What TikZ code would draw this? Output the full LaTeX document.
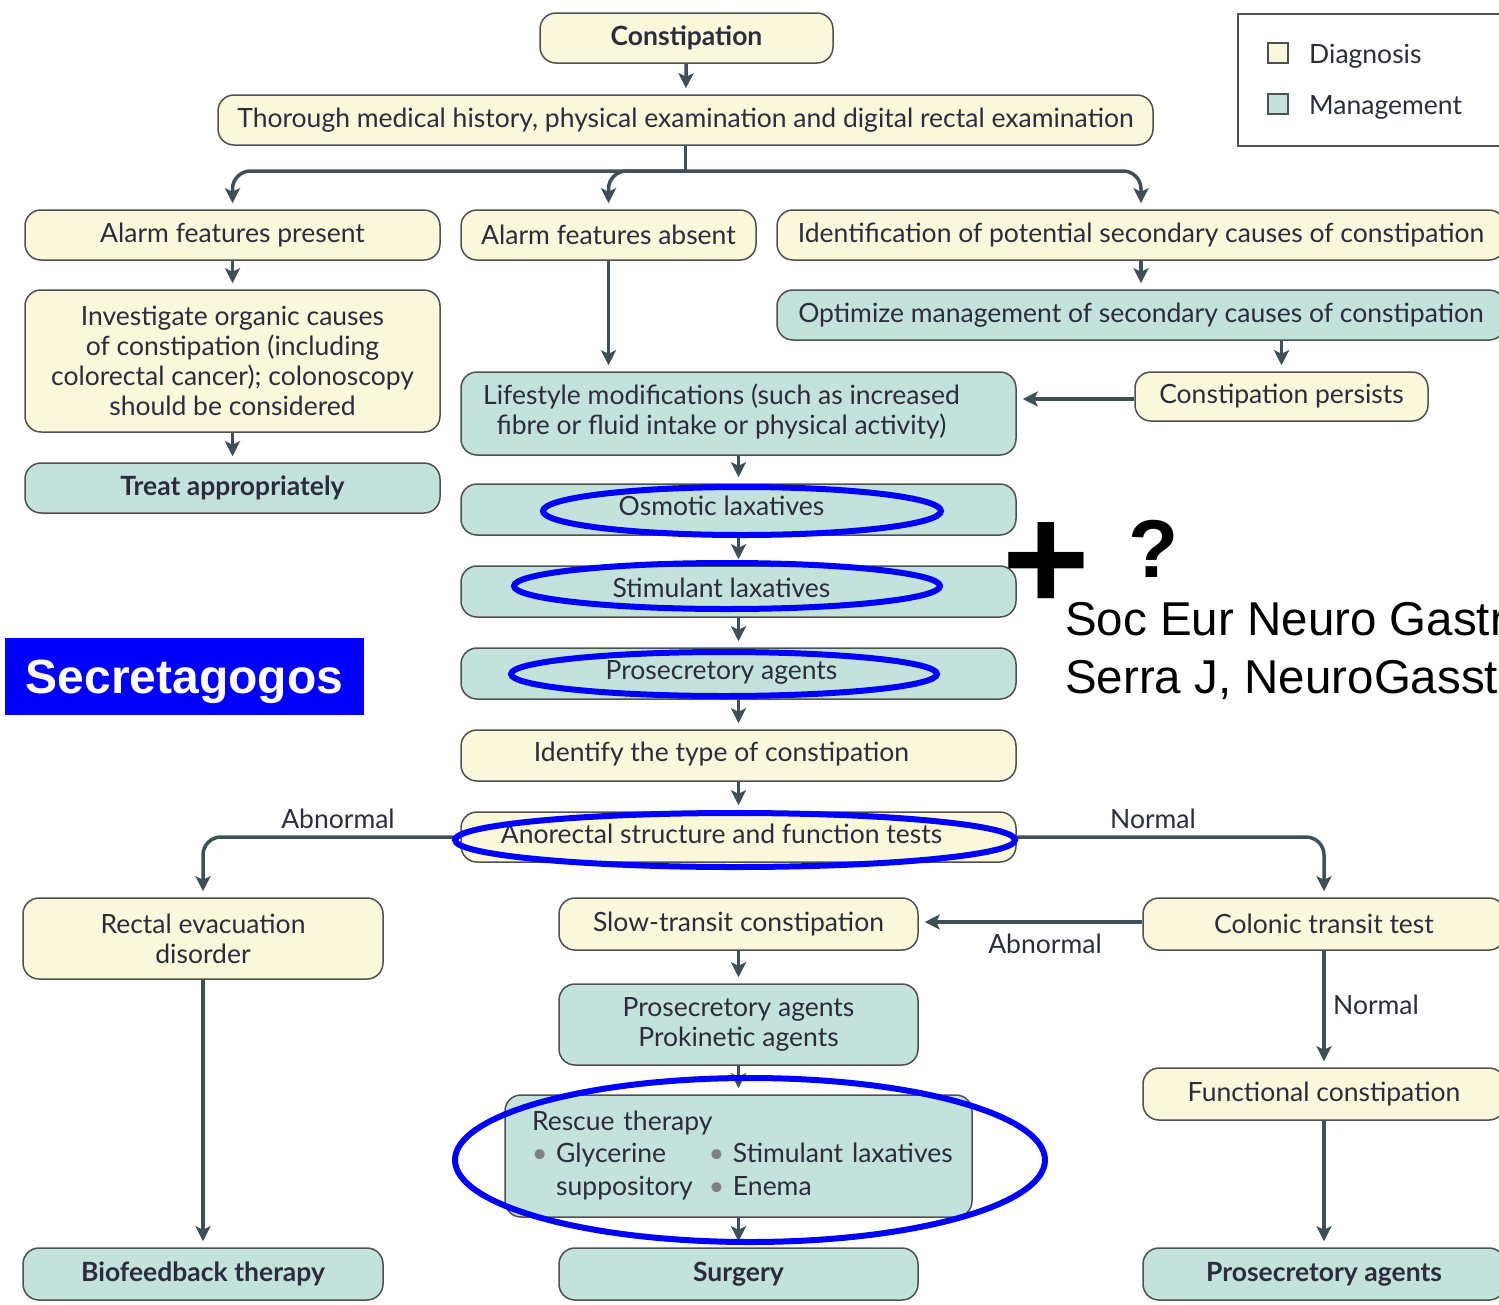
\documentclass[tikz,border=0pt]{standalone}
\usepackage{fontspec}
\setmainfont{Lato}
\newfontfamily\arialfont{Liberation Sans}
\usetikzlibrary{arrows.meta}
\definecolor{diagfill}{HTML}{FAF8DA}
\definecolor{mgmtfill}{HTML}{C3E2DB}
\definecolor{boxline}{HTML}{505050}
\definecolor{arrowcol}{HTML}{3E4F58}
\definecolor{txt}{HTML}{2C2C3C}
\definecolor{hlblue}{HTML}{0000FF}
\newcommand{\shl}[1]{\hspace*{-34pt}\begin{tabular}{@{}c@{}}#1\end{tabular}}
\newcommand{\boxfont}{\fontsize{26.5}{30}\selectfont}
\tikzset{
  box/.style={draw=boxline, line width=1.5pt, rounded corners=16pt, font=\boxfont, text=txt, align=center, inner sep=0pt},
  diag/.style={box, fill=diagfill},
  mgmt/.style={box, fill=mgmtfill},
  boldtxt/.style={font=\boxfont\bfseries},
  arr/.style={draw=arrowcol, line width=3.5pt, -{Stealth[length=15pt,width=15pt,inset=3.5pt]}, shorten >=6pt},
  plainline/.style={draw=arrowcol, line width=3.5pt},
  hl/.style={draw=hlblue, line width=6pt},
  lbl/.style={font=\boxfont, text=txt, inner sep=0pt},
  arialtxt/.style={font=\arialfont, text=black, inner sep=0pt, anchor=base west},
}
\begin{document}
\begin{tikzpicture}[x=1pt,y=-1pt]
\clip (0,0) rectangle (1499,1304);
\fill[white] (0,0) rectangle (1499,1304);

% legend
\node[draw=boxline, line width=1.5pt, minimum width=280pt, minimum height=132pt, inner sep=0pt, anchor=north west] (legend) at (1237,13) {};
\node[draw=boxline, line width=1.5pt, fill=diagfill, minimum size=20pt, inner sep=0pt] (legd) at (1278,53) {};
\node[draw=boxline, line width=1.5pt, fill=mgmtfill, minimum size=20pt, inner sep=0pt] (legm) at (1278,104) {};
\node[lbl, anchor=base west] (legdt) at (1309,63) {Diagnosis};
\node[lbl, anchor=base west] (legmt) at (1309,114) {Management};

% top
\node[diag, boldtxt, minimum width=293pt, minimum height=50pt] (constip) at (686.5,38) {Constipation};
\node[diag, minimum width=935pt, minimum height=50pt] (thorough) at (685.5,120) {Thorough medical history, physical examination and digital rectal examination};
\node[diag, minimum width=415pt, minimum height=50pt] (present) at (232.5,235) {Alarm features present};
\node[diag, minimum width=295pt, minimum height=50pt] (absent) at (608.5,235) {Alarm features absent};
\node[diag, minimum width=728pt, minimum height=50pt] (ident) at (1141,235) {Identification of potential secondary causes of constipation};
\node[mgmt, minimum width=728pt, minimum height=50pt] (optim) at (1141,315) {Optimize management of secondary causes of constipation};
\node[diag, minimum width=293pt, minimum height=49pt] (persists) at (1281.5,396.5) {Constipation persists};
\node[diag, minimum width=415pt, minimum height=142pt] (invest) at (232.5,361) {Investigate organic causes\\of constipation (including\\colorectal cancer); colonoscopy\\should be considered};
\node[mgmt, boldtxt, minimum width=415pt, minimum height=50pt] (treat) at (232.5,488) {Treat appropriately};

% central column
\node[mgmt, minimum width=555pt, minimum height=83pt] (life) at (738.5,413.5) {\shl{Lifestyle modifications (such as increased\\fibre or fluid intake or physical activity)}};
\node[mgmt, minimum width=555pt, minimum height=51pt] (osm) at (738.5,509.5) {\shl{Osmotic laxatives}};
\node[mgmt, minimum width=555pt, minimum height=51pt] (stim) at (738.5,591.5) {\shl{Stimulant laxatives}};
\node[mgmt, minimum width=555pt, minimum height=51pt] (prosa) at (738.5,673.5) {\shl{Prosecretory agents}};
\node[diag, minimum width=555pt, minimum height=51pt] (identify) at (738.5,755.5) {\shl{Identify the type of constipation}};
\node[diag, minimum width=555pt, minimum height=50pt] (anorect) at (738.5,837) {\shl{Anorectal structure and function tests}};

% bottom
\node[diag, minimum width=360pt, minimum height=81pt] (rectal) at (203,938.5) {Rectal evacuation\\disorder};
\node[mgmt, boldtxt, minimum width=360pt, minimum height=52pt] (biofeed) at (203,1274) {Biofeedback therapy};
\node[diag, minimum width=359pt, minimum height=52pt] (slow) at (738.5,924) {Slow-transit constipation};
\node[mgmt, minimum width=359pt, minimum height=81pt] (prospro) at (738.5,1024.5) {Prosecretory agents\\Prokinetic agents};
\node[mgmt, minimum width=467pt, minimum height=122pt, text width=413pt, align=left, font=\fontsize{26.5}{32.5}\selectfont] (rescue) at (738.5,1156) {%
\begin{tabular}{@{}l@{\hspace{16pt}}l@{}}
\multicolumn{2}{@{}l}{Rescue therapy}\\
{\color{gray}\textbullet}\,\,Glycerine & {\color{gray}\textbullet}\,\,Stimulant laxatives\\
\phantom{\textbullet\,\,}suppository & {\color{gray}\textbullet}\,\,Enema
\end{tabular}};
\node[mgmt, boldtxt, minimum width=359pt, minimum height=52pt] (surgery) at (738.5,1274) {Surgery};
\node[diag, minimum width=362pt, minimum height=52pt] (colonic) at (1324,924) {Colonic transit test};
\node[diag, minimum width=362pt, minimum height=52pt] (functional) at (1324,1094) {Functional constipation};
\node[mgmt, boldtxt, minimum width=362pt, minimum height=52pt] (prosb) at (1324,1274) {Prosecretory agents};

% labels
\node[lbl] (labab1) at (338,819) {Abnormal};
\node[lbl] (labn1) at (1153,819) {Normal};
\node[lbl] (labab2) at (1045,944) {Abnormal};
\node[lbl] (labn2) at (1376,1005) {Normal};

% connectors
\coordinate (br) at (685.5,171);
\draw[arr] (constip) -- (thorough);
\draw[plainline] (thorough.south) -- (br);
\draw[arr, rounded corners=18pt] (br) -| (present.north);
\draw[arr, rounded corners=18pt] (br) -| (absent.north);
\draw[arr, rounded corners=18pt] (br) -| (ident.north);
\draw[arr] (present) -- (invest);
\draw[arr] (invest) -- (treat);
\draw[arr] (ident) -- (optim);
\draw[arr] (optim.south -| persists.north) -- (persists.north);
\draw[arr] ([yshift=-2.5pt]persists.west) -- ([yshift=-2.5pt]life.east |- persists.west);
\draw[arr] (absent) -- (absent |- life.north);
\draw[arr] (life) -- (osm);
\draw[arr] (osm) -- (stim);
\draw[arr] (stim) -- (prosa);
\draw[arr] (prosa) -- (identify);
\draw[arr] (identify) -- (anorect);
\draw[arr, rounded corners=18pt] (anorect.west) -| (rectal.north);
\draw[arr, rounded corners=18pt] (anorect.east) -| (colonic.north);
\draw[arr] (rectal) -- (biofeed);
\draw[arr] ([yshift=2pt]colonic.west) -- ([yshift=2pt]slow.east |- colonic.west);
\draw[arr] (colonic) -- (functional);
\draw[arr] (functional) -- (prosb);
\draw[arr] (slow) -- (prospro);
\draw[arr] (prospro) -- (rescue);
\draw[arr] (rescue) -- (surgery);

% highlight ellipses
\draw[hl] (742,511) ellipse [x radius=199pt, y radius=24pt];
\draw[hl] (727,586) ellipse [x radius=213pt, y radius=23pt];
\draw[hl] (724,674) ellipse [x radius=213pt, y radius=22pt];
\draw[hl] (735,840) ellipse [x radius=280pt, y radius=27pt];
\draw[hl] (750,1160) ellipse [x radius=295pt, y radius=82pt];

% overlay text
\node[fill=hlblue, minimum width=359pt, minimum height=77pt, inner sep=0pt, text height=35pt, text depth=0pt, text=white, font=\arialfont\bfseries\fontsize{48}{54}\selectfont] (secret) at (184.5,676) {Secretagogos};
\node[arialtxt, font=\arialfont\bfseries\fontsize{150}{150}\selectfont] (plus) at (1002,610) {+};
\node[arialtxt, font=\arialfont\bfseries\fontsize{82}{82}\selectfont] (qmark) at (1128,577) {?};
\node[arialtxt, font=\arialfont\fontsize{47.5}{58}\selectfont] (ref1) at (1065,635) {Soc Eur Neuro Gastr};
\node[arialtxt, font=\arialfont\fontsize{47.5}{58}\selectfont] (ref2) at (1065,693) {Serra J, NeuroGasst};
\end{tikzpicture}
\end{document}
